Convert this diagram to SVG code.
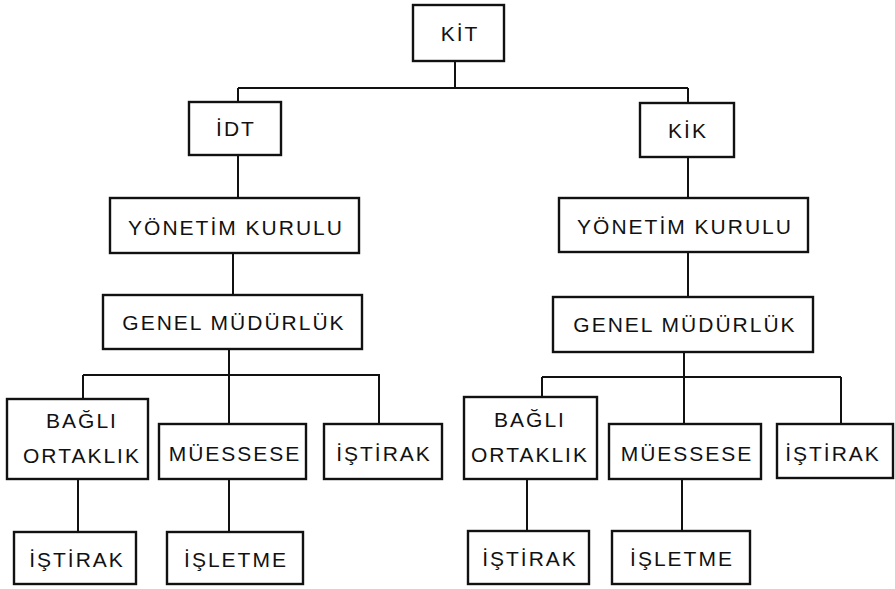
<svg xmlns="http://www.w3.org/2000/svg" width="895" height="589" viewBox="0 0 895 589">
<style>
rect{fill:#fff;stroke:#111;stroke-width:2.4}
text{font-family:"Liberation Sans",Arial,sans-serif;font-size:21px;letter-spacing:2px;text-anchor:middle;fill:#111}
.c path{fill:none;stroke:#111;stroke-width:2}
</style>
<rect width="895" height="589" style="fill:#fff;stroke:none"/>
<g class="c" id="connectors">
<path d="M455 61V88M238 88H688M238 88V102M688 88V103"/>
<path d="M238 155V198M688 157V198"/>
<path d="M233 253V295M688 252V297"/>
<path d="M229 349V375M83 375H380M83 375V399M229 375V424M379 375V424"/>
<path d="M684 352V377M542 377H841M542 377V397M684 377V424M841 377V424"/>
<path d="M78 479V532M229 479V532M527 479V531M682 479V531"/>
</g>
<g id="kit"><rect x="413" y="5" width="91" height="56"/><text x="460" y="41">KİT</text></g>
<g id="idt"><rect x="189" y="102" width="92" height="53"/><text x="236" y="136">İDT</text></g>
<g id="kik"><rect x="640" y="103" width="94" height="54"/><text x="688" y="138">KİK</text></g>
<g id="yk-l"><rect x="110" y="198" width="249" height="55"/><text x="236" y="235">YÖNETİM KURULU</text></g>
<g id="yk-r"><rect x="559" y="198" width="249" height="54"/><text x="685" y="234">YÖNETİM KURULU</text></g>
<g id="gm-l"><rect x="103" y="295" width="259" height="54"/><text x="234" y="330">GENEL MÜDÜRLÜK</text></g>
<g id="gm-r"><rect x="553" y="297" width="260" height="55"/><text x="685" y="332">GENEL MÜDÜRLÜK</text></g>
<g id="bo-l"><rect x="7" y="399" width="141" height="80"/><text x="82" y="428">BAĞLI</text><text x="82" y="463">ORTAKLIK</text></g>
<g id="mu-l"><rect x="159" y="424" width="147" height="55"/><text x="235" y="461">MÜESSESE</text></g>
<g id="is-l"><rect x="324" y="424" width="118" height="55"/><text x="384" y="461">İŞTİRAK</text></g>
<g id="bo-r"><rect x="464" y="397" width="133" height="82"/><text x="530" y="427">BAĞLI</text><text x="530" y="462">ORTAKLIK</text></g>
<g id="mu-r"><rect x="609" y="424" width="152" height="55"/><text x="687" y="461">MÜESSESE</text></g>
<g id="is-r"><rect x="777" y="424" width="116" height="54"/><text x="833" y="461">İŞTİRAK</text></g>
<g id="is2-l"><rect x="14" y="532" width="122" height="52"/><text x="77" y="567">İŞTİRAK</text></g>
<g id="il-l"><rect x="167" y="532" width="136" height="52"/><text x="236" y="567">İŞLETME</text></g>
<g id="is2-r"><rect x="468" y="531" width="121" height="53"/><text x="530" y="566">İŞTİRAK</text></g>
<g id="il-r"><rect x="612" y="531" width="138" height="53"/><text x="682" y="566">İŞLETME</text></g>
</svg>
